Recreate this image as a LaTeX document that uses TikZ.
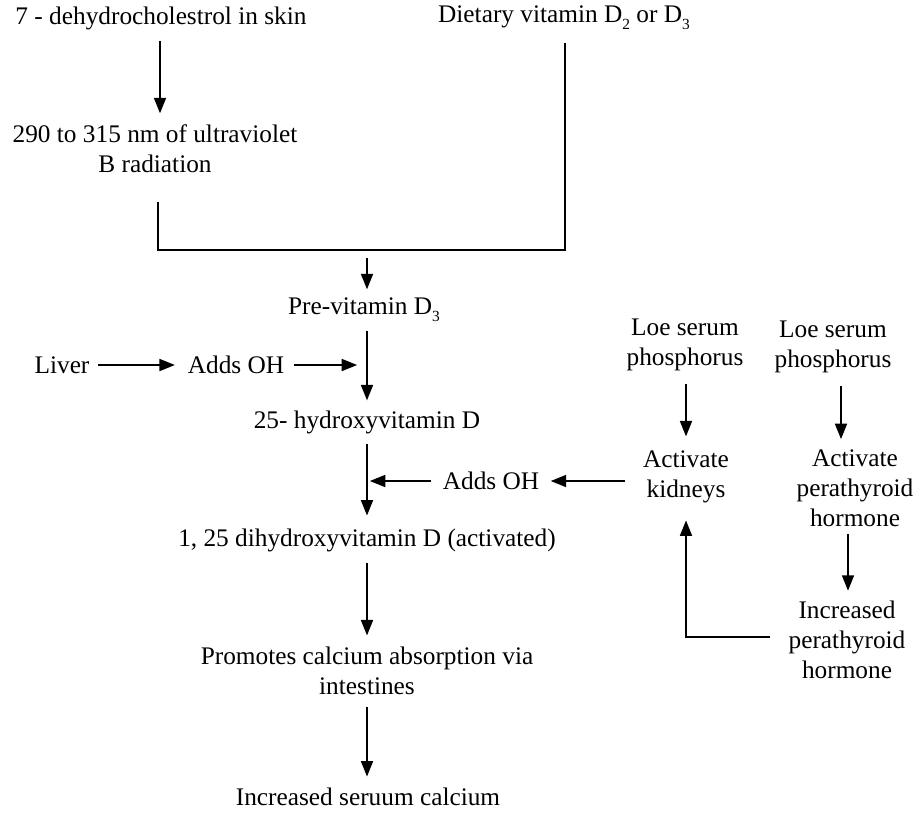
\documentclass[tikz,border=0pt]{standalone}
\usepackage{fontspec}
\setmainfont{Liberation Serif}
\usepackage{tikz}
\usetikzlibrary{positioning, calc, arrows.meta}
\newcommand{\lowsub}[1]{\raisebox{-0.6ex}{\fontsize{11}{11}\selectfont #1}}

\begin{document}
\begin{tikzpicture}[x=0.025cm, y=-0.025cm, every node/.style={align=center, inner sep=0pt, font=\fontsize{18}{21.5}\selectfont}, arrow/.style={-{Triangle[length=11pt, width=8.5pt]}, line width=1.3pt}, link/.style={line width=1.3pt}]
      \useasboundingbox (0,0) rectangle (921,812);
      \node (skin) at (161,18) {7 - dehydrocholestrol in skin}; \node (diet) at
      (564,18) {Dietary vitamin D\lowsub{2} or D\lowsub{3}};
      \node (uvb) at (155,149) {290 to 315 nm of ultraviolet\\B radiation};
      \node (pre) at (364,310) {Pre-vitamin D\lowsub{3}}; \node (liver)
      at (62,365) {Liver}; \node (addsA) at (236,365) {Adds OH}; \node
      (hydroxy) at (367,422) {25- hydroxyvitamin D}; \node (addsB) at
      (491,481) {Adds OH}; \node (dihyd) at (367,540) {1, 25 dihydroxyvitamin D
      (activated)}; \node (prom) at (367,671) {Promotes calcium absorption
      via\\intestines}; \node (serum) at (368,797) {Increased seruum calcium};
      \node (loeA) at (685,345) {Loe serum\\phosphorus}; \node (loeB) at
      (833,347) {Loe serum\\phosphorus}; \node (kid) at (686,477)
      {Activate\\kidneys}; \node (actP) at (855,488)
      {Activate\\perathyroid\\hormone}; \node (incP) at (847,640)
      {Increased\\perathyroid\\hormone};

      \coordinate (jl) at (158,250); \coordinate (jr) at (565,250);
      \coordinate (jm) at (367,250); \coordinate (upper) at (367,365);
      \coordinate (lower) at (367,481); \coordinate (ret) at (686,637);

      \draw[arrow, shorten <=8pt, shorten >=8pt] (skin.south -| 160,0) -- (uvb.north -| 160,0);
      \draw[link, shorten <=20pt, shorten >=9pt] (uvb.south -| jl) -- (jl) -- (jr) -- (jr |- diet.south);
      \draw[arrow, shorten <=6pt, shorten >=6pt] (jm) -- (pre.north -| jm);
      \draw[arrow, shorten <=6pt, shorten >=7pt] (pre.south -| jm) -- (hydroxy.north -| jm);
      \draw[arrow, shorten <=6pt, shorten >=9pt] (liver) -- (addsA);
      \draw[arrow, shorten <=7pt, shorten >=7pt] (addsA) -- (upper);
      \draw[arrow, shorten <=7pt, shorten >=9pt] (hydroxy.south -| jm) -- (dihyd.north -| jm);
      \draw[arrow, shorten <=8pt, shorten >=2pt] (addsB) -- (lower);
      \draw[arrow, shorten <=13pt, shorten >=8pt] (kid.west |- addsB) -- (addsB);
      \draw[arrow, shorten <=9pt, shorten >=10pt] (loeA.south -| kid) -- (kid.north);
      \draw[arrow, shorten <=9pt, shorten >=7pt] (loeB.south -| 841,0) -- (actP.north -| 841,0);
      \draw[arrow, shorten <=5pt, shorten >=7pt] (actP.south -| 848,0) -- (incP.north -| 848,0);
      \draw[arrow, shorten <=8pt, shorten >=8pt] (dihyd.south -| jm) -- (prom.north -| jm);
      \draw[arrow, shorten <=8pt, shorten >=8pt] (prom.south -| jm) -- (serum.north -| jm);
      \draw[arrow, shorten <=13pt, shorten >=12pt] (incP.west |- ret) -- (ret) -- (kid.south);
    \end{tikzpicture}
\end{document}
